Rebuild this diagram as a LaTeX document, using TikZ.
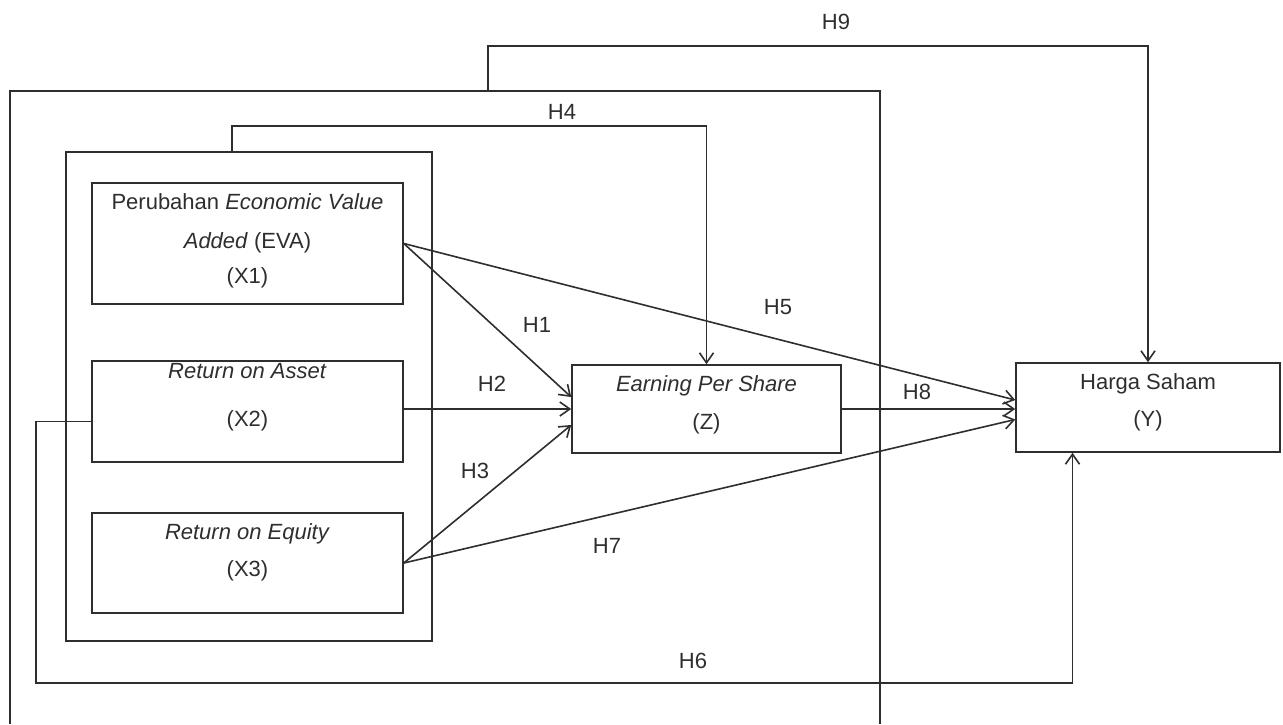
\documentclass[tikz,border=0pt]{standalone}
\usepackage{fontspec}
\setmainfont{Liberation Sans}
\usetikzlibrary{arrows.meta,calc}
\definecolor{ink}{HTML}{2E2E2E}
\begin{document}
\begin{tikzpicture}[x=0.5pt,y=-0.5pt,
  color=ink, line width=0.8pt,
  tip/.style={-{Straight Barb[length=5pt,width=7pt,line width=0.8pt]}},
  boxnode/.style={draw=ink, line width=0.8pt, rectangle, inner sep=0pt},
  txt/.style={text=ink, font=\fontsize{11pt}{13pt}\selectfont, inner sep=0pt, text height=8pt, text depth=2pt},
  hlab/.style={txt}
]
\useasboundingbox (0,0) rectangle (1283,724);
% outer frame (open at bottom)
\coordinate (obl) at (10,724);
\coordinate (otl) at (10,91);
\coordinate (otr) at (880,91);
\coordinate (obr) at (880,724);
\coordinate (o9) at (488,91);
\draw (obl) -- (otl) -- (otr) -- (obr);
% group box
\node[boxnode, minimum width=183pt, minimum height=244.5pt] (grp) at (249,396.5) {};
% variable boxes
\node[boxnode, minimum width=155.5pt, minimum height=60.5pt] (x1) at (247.5,243.5) {};
\node[boxnode, minimum width=155.5pt, minimum height=50.5pt] (x2) at (247.5,411.5) {};
\node[boxnode, minimum width=155.5pt, minimum height=50pt] (x3) at (247.5,563) {};
\node[boxnode, minimum width=134.5pt, minimum height=44pt] (z) at (706.5,409) {};
\node[boxnode, minimum width=132pt, minimum height=44.5pt] (y) at (1148,407.5) {};
% box texts
\node[txt] (t1a) at (247.5,203) {Perubahan \textit{Economic Value}};
\node[txt] (t1b) at (247.5,242) {\textit{Added} (EVA)};
\node[txt] (t1c) at (247.5,277) {(X1)};
\node[txt] (t2a) at (247.5,372) {\textit{Return on Asset}};
\node[txt] (t2b) at (247.5,420) {(X2)};
\node[txt] (t3a) at (247.5,533) {\textit{Return on Equity}};
\node[txt] (t3b) at (247.5,570) {(X3)};
\node[txt] (tza) at (706.5,385) {\textit{Earning Per Share}};
\node[txt] (tzb) at (706.5,423) {(Z)};
\node[txt] (tya) at (1148,383) {Harga Saham};
\node[txt] (tyb) at (1148,420) {(Y)};
% connectors
\draw[tip] (x1.east) -- ([yshift=6pt]z.west);
\draw[tip] (x2.east |- z.west) -- (z.west);
\draw[tip] (x3.east) -- ([yshift=-8pt]z.west);
\draw[tip] (x1.east) -- ([yshift=3.75pt]y.west);
\draw[tip] (z.east) -- (z.east -| y.west);
\draw[tip] (x3.east) -- ([yshift=-6pt]y.west);
\draw[tip] ([xshift=-8.5pt]grp.north) -- ++(0,-25) -| (z.north);
\draw[tip] (o9) -- ++(0,-45) -| (y.north);
\draw[tip] ([yshift=-5pt]x2.west) -- (36,421.5) -- (36,683) -| ([xshift=-37.75pt]y.south);
% hypothesis labels
\node[hlab] (h1) at (537,326) {H1};
\node[hlab] (h2) at (492,385) {H2};
\node[hlab] (h3) at (475,472) {H3};
\node[hlab] (h4) at (562,113) {H4};
\node[hlab] (h5) at (778,308) {H5};
\node[hlab] (h6) at (693,662) {H6};
\node[hlab] (h7) at (607,547) {H7};
\node[hlab] (h8) at (917,393) {H8};
\node[hlab] (h9) at (836,23) {H9};
\end{tikzpicture}
\end{document}
